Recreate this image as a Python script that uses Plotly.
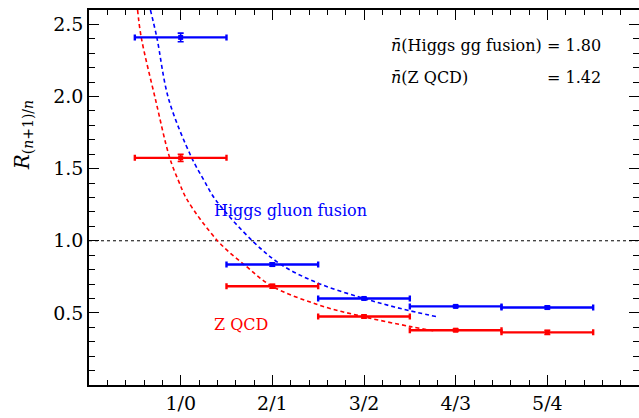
import plotly.graph_objects as go

# Data
bins = [1, 2, 3, 4, 5]
tick_labels = ["1/0", "2/1", "3/2", "4/3", "5/4"]
bin_half_width = [0.5, 0.5, 0.5, 0.5, 0.5]

higgs_ratio = [2.41, 0.835, 0.60, 0.545, 0.537]
higgs_err = [0.03, 0.012, 0.008, 0.008, 0.01]
zqcd_ratio = [1.575, 0.685, 0.475, 0.38, 0.365]
zqcd_err = [0.025, 0.014, 0.01, 0.008, 0.015]

# Fit curves
higgs_fit_x = [0.67, 0.74, 0.87, 1.12, 1.25, 1.38, 1.79, 2.10, 2.50, 2.99, 3.40, 3.79]
higgs_fit_y = [2.60, 2.41, 1.98, 1.576, 1.424, 1.285, 0.995, 0.833, 0.706, 0.602, 0.53, 0.474]
zqcd_fit_x = [0.53, 0.57, 0.725, 0.88, 0.98, 1.07, 1.41, 1.72, 1.99, 2.50, 2.99, 3.51, 3.77]
zqcd_fit_y = [2.60, 2.41, 1.98, 1.576, 1.41, 1.285, 0.995, 0.82, 0.6875, 0.556, 0.474, 0.405, 0.375]

y_ticks = [0.5, 1.0, 1.5, 2.0, 2.5]
y_tick_labels = ["0.5", "1.0", "1.5", "2.0", "2.5"]

BLUE = "#0000ff"
RED = "#ff0000"
FONT = "DejaVu Serif, Liberation Serif, serif"

fig = go.Figure()

# reference line at 1
fig.add_trace(go.Scatter(x=[0, 6], y=[1, 1], mode="lines",
                         line=dict(color="black", width=1, dash="dot"),
                         showlegend=False, hoverinfo="skip"))

fig.add_trace(go.Scatter(x=higgs_fit_x, y=higgs_fit_y, mode="lines",
                         line=dict(color=BLUE, width=1.6, dash="4px,3px", shape="spline"),
                         showlegend=False))
fig.add_trace(go.Scatter(x=zqcd_fit_x, y=zqcd_fit_y, mode="lines",
                         line=dict(color=RED, width=1.6, dash="4px,3px", shape="spline"),
                         showlegend=False))

for yv, ev, col in [(higgs_ratio, higgs_err, BLUE), (zqcd_ratio, zqcd_err, RED)]:
    fig.add_trace(go.Scatter(
        x=bins, y=yv, mode="markers",
        marker=dict(symbol="square", size=5, color=col),
        error_x=dict(type="data", array=bin_half_width, color=col, thickness=2.4, width=3),
        error_y=dict(type="data", array=ev, color=col, thickness=1.6, width=3),
        showlegend=False))

fig.add_annotation(x=1.34, y=1.21, xanchor="left", yanchor="middle",
                   text="Higgs gluon fusion", showarrow=False,
                   font=dict(family=FONT, size=16, color=BLUE))
fig.add_annotation(x=1.34, y=0.42, xanchor="left", yanchor="middle",
                   text="Z QCD", showarrow=False,
                   font=dict(family=FONT, size=16, color=RED))

fig.add_annotation(xref="paper", yref="paper", x=0.545, y=0.906, xanchor="left", yanchor="middle",
                   text="<i>n̄</i>(Higgs gg fusion)", showarrow=False,
                   font=dict(family=FONT, size=16, color="black"))
fig.add_annotation(xref="paper", yref="paper", x=0.545, y=0.82, xanchor="left", yanchor="middle",
                   text="<i>n̄</i>(Z QCD)", showarrow=False,
                   font=dict(family=FONT, size=16, color="black"))
fig.add_annotation(xref="paper", yref="paper", x=0.935, y=0.906, xanchor="right", yanchor="middle",
                   text="= 1.80", showarrow=False,
                   font=dict(family=FONT, size=16, color="black"))
fig.add_annotation(xref="paper", yref="paper", x=0.935, y=0.82, xanchor="right", yanchor="middle",
                   text="= 1.42", showarrow=False,
                   font=dict(family=FONT, size=16, color="black"))

# y-axis title placed as rotated annotation
fig.add_annotation(xref="paper", yref="paper", x=-0.121, y=0.667, xanchor="center", yanchor="middle",
                   textangle=-90, text="<i>R</i><sub>(<i>n</i>+1)/<i>n</i></sub>", showarrow=False,
                   font=dict(family=FONT, size=20, color="black"))

fig.update_xaxes(range=[0, 6], tickvals=bins, ticktext=tick_labels,
                 ticks="inside", ticklen=10, tickwidth=1, tickcolor="black",
                 minor=dict(dtick=0.2, tick0=0, ticks="inside", ticklen=5, tickcolor="black"),
                 mirror="allticks", showline=True, linecolor="black", linewidth=1.5,
                 showgrid=False, zeroline=False,
                 tickfont=dict(family=FONT, size=19, color="black"))
fig.update_yaxes(range=[0, 2.6], tickvals=y_ticks, ticktext=y_tick_labels,
                 ticks="inside", ticklen=10, tickwidth=1, tickcolor="black",
                 minor=dict(dtick=0.1, tick0=0, ticks="inside", ticklen=6, tickcolor="black"),
                 mirror="allticks", showline=True, linecolor="black", linewidth=1.5,
                 showgrid=False, zeroline=False,
                 tickfont=dict(family=FONT, size=19, color="black"))

fig.update_layout(width=643, height=418, margin=dict(l=89, r=2, t=10, b=33),
                  plot_bgcolor="white", paper_bgcolor="white")

fig.write_html("out.html", config={"displayModeBar": False},
               post_script="document.body.style.margin='0px';document.body.style.padding='0px';"
                           "document.body.style.overflow='hidden';"
                           "document.documentElement.style.overflow='hidden';")
